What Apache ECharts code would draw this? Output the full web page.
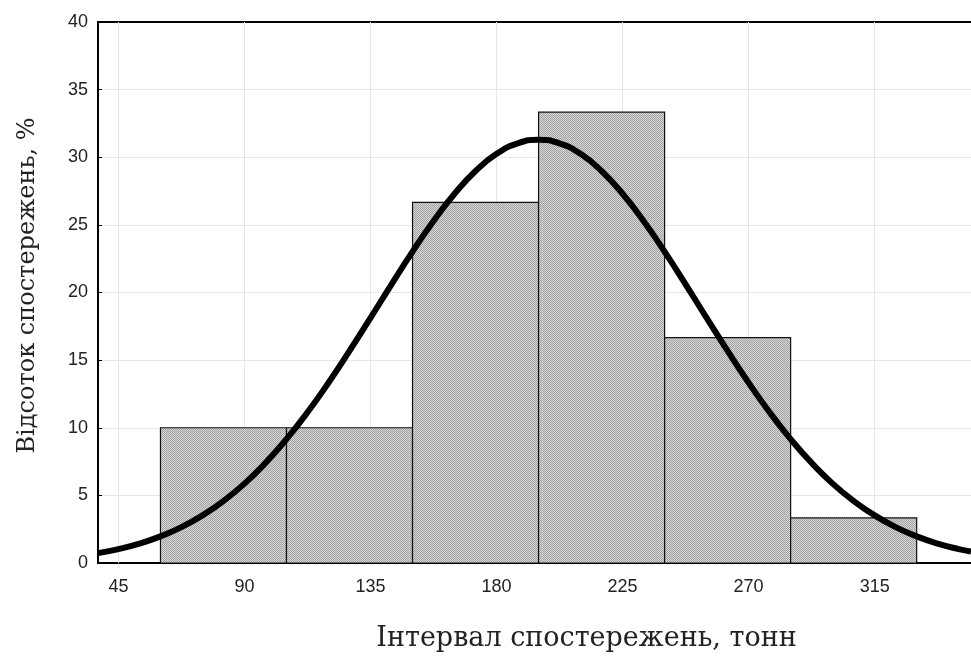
<!DOCTYPE html>
<html lang="uk">
<head>
    <meta charset="UTF-8">
    <title>Гістограма</title>
    <style>
        *{ margin: 0; padding: 0;}
        body{ background: #fff;}
        #chart{ width: 971px; height: 659px;}
    </style>
    <script src="https://cdn.jsdelivr.net/npm/echarts@6/dist/echarts.min.js"></script>
</head>
<body>
    <div id="chart"></div>
    <script>
        // інтервали (межі) та відсоток спостережень
        var binStarts = [60, 105, 150, 195, 240, 285];
        var binEnds = [105, 150, 195, 240, 285, 330];
        var binValues = [10, 10, 26.67, 33.33, 16.67, 3.33];

        // нормальна крива, точки
        var curveX = [37.7, 45, 52.5, 60, 67.5, 75, 82.5, 90, 97.5, 105, 112.5, 120, 127.5, 135, 142.5, 150, 157.5, 165, 172.5, 180, 187.5,
            195, 202.5, 210, 217.5, 225, 232.5, 240, 247.5, 255, 262.5, 270, 277.5, 285, 292.5, 300, 307.5, 315, 322.5, 330, 337.5, 345, 349.4];
        var curveY = [0.73, 1.03, 1.44, 1.97, 2.65, 3.52, 4.59, 5.87, 7.4, 9.16, 11.14, 13.33, 15.68, 18.12, 20.6, 23.02, 25.28, 27.3, 28.98, 30.25, 31.03,
            31.3, 31.03, 30.25, 28.98, 27.3, 25.28, 23.02, 20.6, 18.12, 15.68, 13.33, 11.14, 9.16, 7.4, 5.87, 4.59, 3.52, 2.65, 1.97, 1.44, 1.03, 0.85];

        var xTicks = [45, 90, 135, 180, 225, 270, 315];

        // дрібна крапчаста текстура стовпців
        var tex = document.createElement('canvas');
        tex.width = 2;
        tex.height = 2;
        var tctx = tex.getContext('2d');
        tctx.fillStyle = '#d6d6d6';
        tctx.fillRect(0, 0, 2, 2);
        tctx.fillStyle = '#a2a2a2';
        tctx.fillRect(0, 0, 1, 1);
        tctx.fillRect(1, 1, 1, 1);

        var myChart = echarts.init(document.getElementById('chart'));

        var barData = binStarts.map(function (s, i) {
            return [s, binEnds[i], binValues[i]];
        });
        var curveData = curveX.map(function (x, i) {
            return [x, curveY[i]];
        });

        var option = {
            animation: false,
            grid: { left: 98, right: 0, top: 22, bottom: 96 },
            xAxis: [{
                type: 'value',
                min: 37.7,
                max: 349.4,
                name: 'Інтервал спостережень, тонн',
                nameLocation: 'middle',
                nameGap: 62,
                nameTextStyle: { fontFamily: 'DejaVu Serif', fontSize: 27, color: '#222', padding: [0, 0, 0, 104] },
                axisLine: { lineStyle: { color: '#000', width: 2 } },
                axisTick: { inside: true, length: 4, customValues: xTicks, lineStyle: { color: '#000' } },
                axisLabel: { customValues: xTicks, fontFamily: 'Liberation Sans', fontSize: 18, color: '#222', margin: 15 },
                splitLine: { show: false }
            }, {
                type: 'value',
                position: 'top',
                min: 37.7,
                max: 349.4,
                axisLine: { show: true, lineStyle: { color: '#000', width: 2 } },
                axisTick: { inside: true, length: 4, customValues: xTicks, lineStyle: { color: '#000' } },
                axisLabel: { show: false },
                splitLine: { show: false }
            }],
            yAxis: {
                type: 'value',
                min: 0,
                max: 40,
                interval: 5,
                name: 'Відсоток спостережень, %',
                nameLocation: 'middle',
                nameGap: 58,
                nameTextStyle: { fontFamily: 'DejaVu Serif', fontSize: 24, color: '#222', padding: [0, 0, 0, 14] },
                axisLine: { show: true, lineStyle: { color: '#000', width: 2 } },
                axisTick: { show: true, inside: true, length: 4, lineStyle: { color: '#000' } },
                axisLabel: { fontFamily: 'Liberation Sans', fontSize: 18, color: '#222', margin: 10 },
                splitLine: { lineStyle: { color: '#e6e6e6', width: 1 } }
            },
            series: [
                {
                    // вертикальні лінії сітки
                    type: 'line',
                    data: [],
                    z: 1,
                    markLine: {
                        silent: true,
                        z: 1,
                        symbol: 'none',
                        label: { show: false },
                        lineStyle: { color: '#e6e6e6', width: 1, type: 'solid' },
                        data: xTicks.map(function (t) { return { xAxis: t }; })
                    }
                },
                {
                    type: 'custom',
                    z: 2,
                    data: barData,
                    renderItem: function (params, api) {
                        var p0 = api.coord([api.value(0), api.value(2)]);
                        var p1 = api.coord([api.value(1), 0]);
                        return {
                            type: 'rect',
                            shape: { x: p0[0], y: p0[1], width: p1[0] - p0[0], height: p1[1] - p0[1] },
                            style: { fill: { image: tex, repeat: 'repeat' }, stroke: '#111', lineWidth: 1.2 }
                        };
                    }
                },
                {
                    type: 'line',
                    z: 3,
                    data: curveData,
                    smooth: true,
                    showSymbol: false,
                    lineStyle: { color: '#000', width: 6 }
                }
            ]
        };
        myChart.setOption(option);
    </script>
</body>
</html>
